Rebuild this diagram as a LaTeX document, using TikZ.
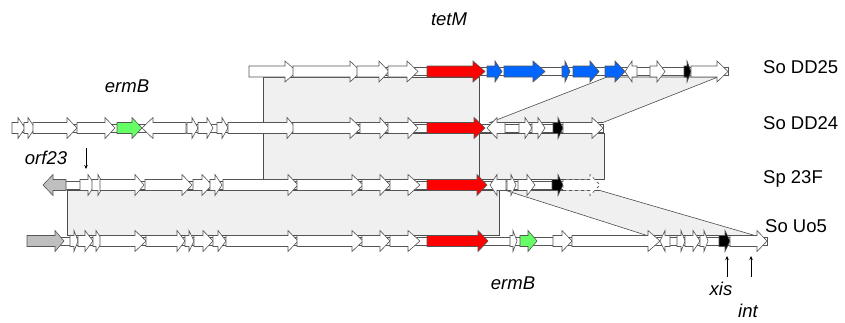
\documentclass[tikz,border=0pt]{standalone}
\usepackage{fontspec}
\setmainfont{Liberation Sans}
\usetikzlibrary{arrows.meta}
\definecolor{genered}{HTML}{FF0000}
\definecolor{geneblue}{HTML}{0066FF}
\definecolor{genegreen}{HTML}{66FF66}
\definecolor{genegrey}{HTML}{BFBFBF}
\definecolor{shade}{HTML}{F0F0F0}
\definecolor{edge}{HTML}{555555}
\tikzset{
  gene/.style={draw=edge,line width=0.6pt,line join=miter},
  bbone/.style={draw=edge,line width=0.6pt,fill=white},
  region/.style={fill=shade,draw=edge!90!black,line width=0.6pt},
  rowlabel/.style={anchor=west,font=\fontsize{18.5}{22}\selectfont,inner sep=0pt},
  genelabel/.style={font=\fontsize{18.5}{22}\selectfont\itshape,inner sep=0pt},
  pointer/.style={draw=black,line width=0.6pt,-{Stealth[length=4pt,width=3.5pt]}}
}
\newcommand{\gR}[5]{\draw[gene,fill=#5] (#1,#4-5.5) -- (#3,#4-5.5) -- (#3,#4-10.5) -- (#2,#4) -- (#3,#4+10.5) -- (#3,#4+5.5) -- (#1,#4+5.5) -- cycle;}
\newcommand{\gL}[5]{\draw[gene,fill=#5] (#2,#4-5.5) -- (#3,#4-5.5) -- (#3,#4-10.5) -- (#1,#4) -- (#3,#4+10.5) -- (#3,#4+5.5) -- (#2,#4+5.5) -- cycle;}
\newcommand{\gRd}[5]{\draw[gene,dashed,fill=#5] (#1,#4-5.5) -- (#3,#4-5.5) -- (#3,#4-10.5) -- (#2,#4) -- (#3,#4+10.5) -- (#3,#4+5.5) -- (#1,#4+5.5) -- cycle;}
\newcommand{\bbn}[3]{\draw[bbone] (#1,#3-3.8) rectangle (#2,#3+3.8);}
\begin{document}
\begin{tikzpicture}[x=1pt,y=-1pt]
\useasboundingbox (0,0) rectangle (845,322);
% ---------- comparison regions ----------
\draw[region] (263,77) rectangle (479,122.5);
\draw[region] (490,122.5) -- (607,77) -- (718,77) -- (603,122.5) -- cycle;
\draw[region] (263,133.5) rectangle (479,179.5);
\draw[region] (479,133.5) rectangle (604,179.5);
\draw[region] (67,190.5) rectangle (499,235.5);
\draw[region] (506,190.5) -- (600,190.5) -- (755,235.5) -- (647,235.5) -- cycle;
% ---------- row 1 : So DD25 ----------
\bbn{249}{728}{71.5}
\gR{249}{297}{285}{71.5}{white}
\gR{293}{361}{350}{71.5}{white}
\gR{357}{389}{379}{71.5}{white}
\gR{388}{418}{407}{71.5}{white}
\gR{427}{485}{473}{71.5}{genered}
\gR{487}{502}{495}{71.5}{geneblue}
\gR{504}{545}{533}{71.5}{geneblue}
\gR{562}{570}{565}{71.5}{geneblue}
\gR{573}{599}{590}{71.5}{geneblue}
\gR{605}{625}{615}{71.5}{geneblue}
\gL{625}{637}{632}{71.5}{white}
\gR{650}{665}{657}{71.5}{white}
\gR{684}{691}{687}{71.5}{black}
\gR{691}{728}{717}{71.5}{white}
% ---------- row 2 : So DD24 ----------
\bbn{12}{603}{128}
\gR{12}{25}{18}{128}{white}
\gR{24}{35}{28}{128}{white}
\gR{33}{77}{67}{128}{white}
\gR{77}{115}{105}{128}{white}
\gR{117}{142}{132}{128}{genegreen}
\gL{142}{186}{153}{128}{white}
\gR{187}{198}{192}{128}{white}
\gR{198}{213}{207}{128}{white}
\gR{217}{228}{222}{128}{white}
\gR{228}{296}{287}{128}{white}
\gR{293}{361}{350}{128}{white}
\gR{360}{389}{380}{128}{white}
\gR{388}{418}{408}{128}{white}
\gR{427}{485}{474}{128}{genered}
\gL{487}{505}{497}{128}{white}
\gR{519}{532}{525}{128}{white}
\gR{532}{545}{538}{128}{white}
\gR{553}{563}{558}{128}{black}
\gR{563}{603}{592}{128}{white}
% ---------- row 3 : Sp 23F ----------
\bbn{53}{590}{185}
\gL{43}{66}{53}{185}{genegrey}
\gR{80}{95}{88}{185}{white}
\gR{92}{104}{98}{185}{white}
\gR{100}{144}{135}{185}{white}
\gR{145}{192}{182}{185}{white}
\gR{193}{212}{202}{185}{white}
\gR{210}{222}{215}{185}{white}
\gR{223}{298}{288}{185}{white}
\gR{297}{363}{352}{185}{white}
\gR{362}{390}{380}{185}{white}
\gR{390}{420}{408}{185}{white}
\gR{427}{487}{477}{185}{genered}
\gL{490}{506}{497}{185}{white}
\gR{507}{516}{511}{185}{white}
\gR{518}{535}{527}{185}{white}
\gR{552}{563}{558}{185}{black}
\gRd{563}{600}{590}{185}{white}
% ---------- row 4 : So Uo5 ----------
\bbn{27}{767}{241}
\gR{27}{64}{55}{241}{genegrey}
\gR{70}{78}{74}{241}{white}
\gR{78}{93}{85}{241}{white}
\gR{93}{103}{96}{241}{white}
\gR{100}{146}{135}{241}{white}
\gR{146}{185}{177}{241}{white}
\gR{185}{194}{189}{241}{white}
\gR{194}{213}{203}{241}{white}
\gR{213}{226}{218}{241}{white}
\gR{226}{298}{288}{241}{white}
\gR{297}{363}{352}{241}{white}
\gR{362}{390}{380}{241}{white}
\gR{390}{420}{408}{241}{white}
\gR{427}{488}{478}{241}{genered}
\gR{510}{517}{513}{241}{white}
\gR{520}{537}{528}{241}{genegreen}
\gR{553}{572}{562}{241}{white}
\gR{572}{660}{648}{241}{white}
\gL{660}{670}{665}{241}{white}
\gR{677}{685}{681}{241}{white}
\gR{685}{700}{693}{241}{white}
\gR{700}{708}{704}{241}{white}
\gR{719}{730}{725}{241}{black}
\gR{730}{767}{757}{241}{white}
% ---------- row labels ----------
\node[rowlabel] (l1) at (763,67) {So DD25};
\node[rowlabel] (l2) at (763,123) {So DD24};
\node[rowlabel] (l3) at (763,179) {Sp 23F};
\node[rowlabel] (l4) at (765,226) {So Uo5};
% ---------- gene labels ----------
\node[genelabel] (tetM) at (449,19) {tetM};
\node[genelabel] (ermBa) at (127,86) {ermB};
\node[genelabel] (ermBb) at (513,283) {ermB};
\node[genelabel] (orf) at (46,158) {orf23};
\node[genelabel] (xis) at (721,289) {xis};
\node[genelabel] (int) at (748,311) {int};
\coordinate (orfA) at (86,148);
\coordinate (orfB) at (86,169);
\coordinate (xisA) at (727,277);
\coordinate (xisB) at (727,256);
\coordinate (intA) at (751,277);
\coordinate (intB) at (751,256);
\draw[pointer] (orfA) -- (orfB);
\draw[pointer] (xisA) -- (xisB);
\draw[pointer] (intA) -- (intB);
\end{tikzpicture}
\end{document}
